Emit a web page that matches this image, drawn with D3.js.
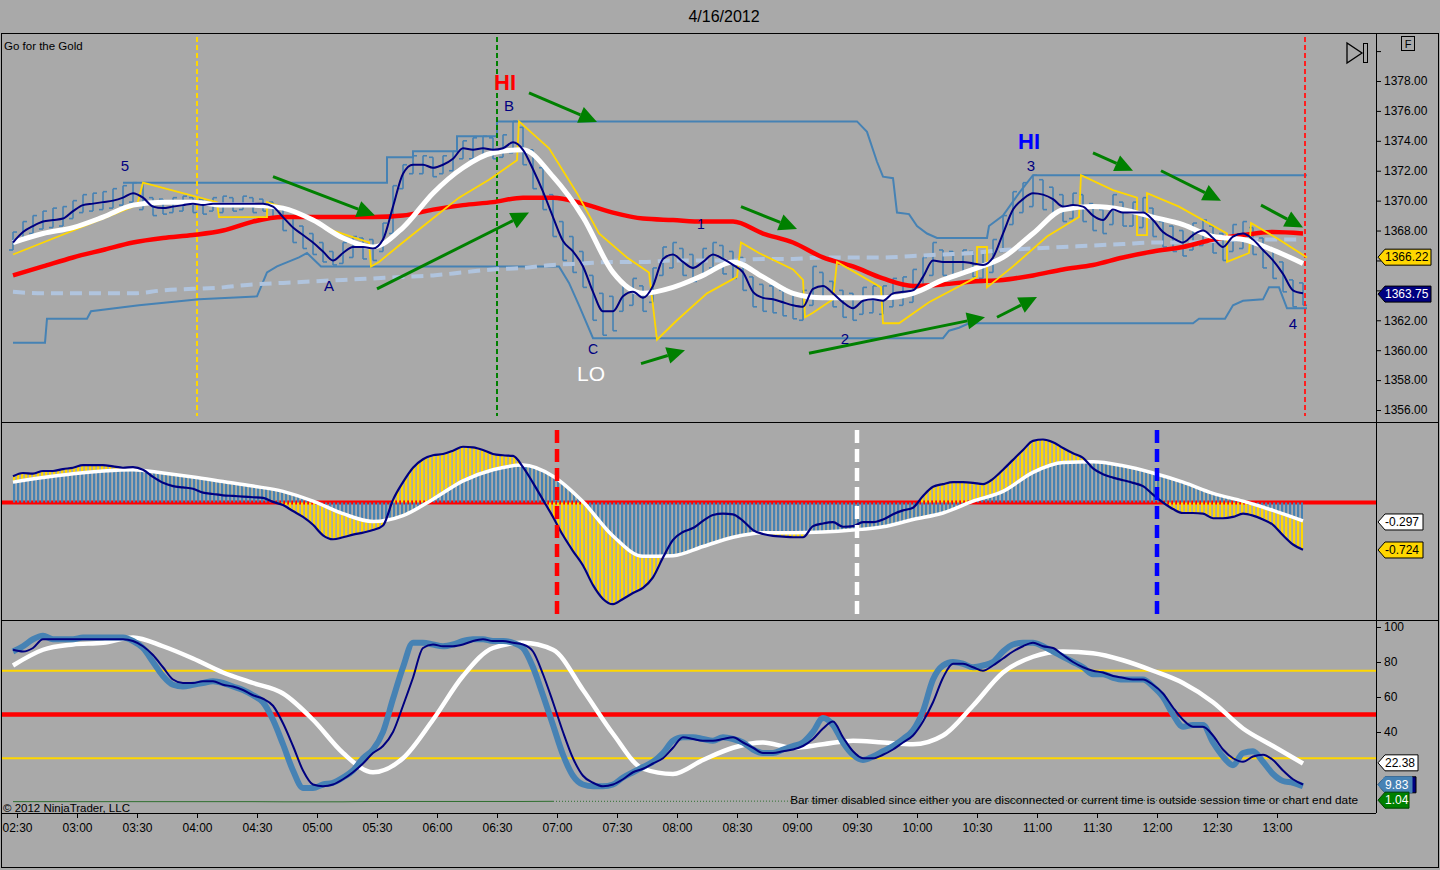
<!DOCTYPE html>
<html><head><meta charset="utf-8">
<script src="https://cdn.jsdelivr.net/npm/d3@7"></script>
<style>
html,body{margin:0;padding:0;background:#a9a9a9;overflow:hidden;}
svg{display:block;}
text{font-family:"Liberation Sans",Arial,sans-serif;}
</style></head><body>
<svg id="c" width="1440" height="870"></svg>
<script>
// ---------------- DATA ----------------
const chartDate = "2012-04-16";
const titleText = "4/16/2012";
const indicatorName = "Go for the Gold";
const firstBarTime = "02:28";
const barStepMin = 5;      // price bars / fast series
const smoothStepMin = 15;  // smooth series

const barHigh = [
1367.9,1368.6,1369.0,1369.3,1369.5,1369.6,1370.0,1370.4,1370.5,1370.6,
1370.8,1371.0,1371.2,1371.2,1370.2,1370.1,1370.2,1370.3,1370.2,1370.1,
1370.2,1370.3,1370.2,1370.3,1370.2,1370.1,1369.9,1369.5,1368.9,1368.3,
1367.8,1367.2,1366.6,1367.2,1367.6,1367.5,1367.4,1368.5,1371.0,1372.4,
1373.0,1373.0,1372.9,1373.0,1373.3,1374.0,1374.2,1374.3,1374.2,1374.4,
1375.3,1374.9,1373.4,1372.2,1370.4,1368.6,1367.6,1366.6,1365.0,1363.8,
1363.6,1364.4,1364.8,1364.3,1365.5,1366.9,1367.2,1366.8,1366.4,1366.8,
1367.2,1367.0,1366.6,1366.2,1364.9,1364.4,1364.3,1364.0,1363.9,1364.0,
1365.6,1365.2,1364.6,1364.0,1363.8,1364.2,1364.3,1364.3,1364.8,1364.9,
1365.4,1366.2,1367.2,1366.7,1366.6,1366.7,1366.6,1366.6,1367.4,1369.0,
1370.6,1371.2,1371.7,1371.4,1370.9,1370.4,1370.5,1370.4,1369.8,1369.4,
1370.4,1369.9,1369.9,1370.2,1369.5,1368.6,1368.3,1368.0,1368.5,1368.7,
1368.3,1367.8,1368.4,1368.6,1368.2,1367.5,1366.8,1365.9,1364.7,1364.5];
const barLow = [
1366.7,1367.4,1367.8,1368.1,1368.2,1368.3,1368.8,1369.2,1369.3,1369.4,
1369.5,1369.7,1369.9,1369.4,1369.0,1369.1,1369.2,1369.3,1369.2,1369.1,
1369.3,1369.2,1369.3,1369.4,1369.2,1369.3,1368.9,1368.0,1367.2,1366.8,
1366.4,1365.9,1365.7,1365.8,1366.2,1366.1,1366.0,1366.6,1367.8,1370.8,
1371.8,1371.8,1371.6,1371.8,1372.0,1372.8,1372.8,1372.9,1372.8,1372.9,
1373.2,1372.4,1370.8,1369.4,1367.6,1366.0,1365.2,1364.2,1362.0,1361.0,
1361.3,1362.6,1363.0,1362.6,1363.2,1365.0,1365.5,1365.0,1364.6,1364.9,
1365.5,1365.1,1364.8,1364.0,1362.9,1362.6,1362.5,1362.3,1362.1,1362.0,
1363.0,1363.4,1362.9,1362.2,1362.0,1362.4,1362.5,1362.4,1362.9,1363.0,
1363.2,1364.0,1365.0,1365.0,1365.0,1365.1,1364.9,1364.8,1365.2,1366.6,
1368.4,1369.2,1369.6,1369.4,1369.1,1368.6,1368.8,1368.6,1368.0,1367.8,
1368.4,1368.3,1368.3,1368.2,1367.6,1366.9,1366.6,1366.3,1366.7,1367.0,
1366.5,1366.0,1366.6,1366.8,1366.4,1365.5,1364.8,1363.9,1362.9,1363.0];
const fastMA = [
1367.2,1367.9,1368.3,1368.6,1368.7,1368.8,1369.3,1369.7,1369.8,1369.9,
1370.0,1370.2,1370.5,1370.2,1369.6,1369.5,1369.6,1369.7,1369.8,1369.7,
1369.8,1369.8,1369.8,1369.8,1369.8,1369.8,1369.6,1368.9,1368.2,1367.7,
1367.2,1366.6,1366.0,1366.5,1366.9,1366.9,1366.8,1367.4,1369.6,1371.8,
1372.4,1372.4,1372.2,1372.4,1372.8,1373.5,1373.4,1373.5,1373.4,1373.5,
1373.9,1373.4,1372.1,1370.6,1368.9,1367.3,1366.6,1365.6,1363.9,1362.6,
1362.6,1363.6,1363.9,1363.5,1364.3,1366.1,1366.4,1365.9,1365.5,1365.9,
1366.4,1366.1,1365.7,1365.2,1363.9,1363.5,1363.4,1363.2,1363.0,1362.9,
1364.1,1364.3,1363.8,1363.2,1362.8,1363.3,1363.4,1363.3,1363.8,1363.9,
1364.0,1364.9,1366.0,1365.9,1365.9,1365.9,1365.8,1365.7,1366.2,1367.8,
1369.4,1370.1,1370.5,1370.4,1370.1,1369.6,1369.7,1369.6,1369.0,1368.7,
1369.4,1369.2,1369.2,1369.2,1368.7,1367.9,1367.5,1367.2,1367.7,1368.0,
1367.5,1366.9,1367.6,1367.8,1367.4,1366.7,1366.0,1365.1,1364.0,1363.8];
const midMA = [
1367.2,1367.8,1368.2,1368.9,1369.7,1369.9,1369.9,1369.7,1369.7,1369.5,
1368.7,1367.5,1366.9,1368.2,1370.5,1372.2,1373.2,1373.4,1371.6,1368.9,
1365.2,1363.8,1364.2,1365.0,1365.9,1364.9,1363.8,1363.5,1363.5,1363.5,
1363.8,1364.7,1365.4,1366.2,1367.8,1369.4,1369.6,1369.4,1368.9,1368.4,
1367.6,1367.4,1366.7,1365.8];
const slowMA = [
1365.0,1365.6,1366.2,1366.7,1367.2,1367.5,1367.7,1368.0,1368.6,1368.9,
1368.9,1368.9,1368.9,1369.0,1369.4,1369.7,1369.9,1370.2,1370.2,1369.8,
1369.2,1368.8,1368.7,1368.6,1368.6,1367.8,1367.2,1366.2,1365.6,1364.8,
1364.3,1364.4,1364.6,1364.7,1365.0,1365.4,1365.7,1366.2,1366.6,1366.9,
1367.4,1367.7,1367.9,1367.8];
const longMA = [
1363.9,1363.8,1363.8,1363.8,1363.8,1364.0,1364.1,1364.2,1364.4,1364.5,
1364.6,1364.7,1364.8,1364.9,1365.0,1365.2,1365.4,1365.5,1365.7,1365.8,
1365.9,1365.9,1366.0,1366.0,1366.0,1366.1,1366.1,1366.2,1366.2,1366.2,
1366.3,1366.4,1366.5,1366.7,1366.8,1366.9,1367.0,1367.1,1367.2,1367.2,
1367.3,1367.4,1367.4,1367.4];
const stopTimes = ["02:28","03:30","03:33","04:10","04:11","04:35","04:35","04:51","05:08","05:26",
"05:27","05:31","05:41","05:56","06:11","06:26","06:40","06:41","06:56","07:10",
"07:21","07:35","07:46","07:50","08:00","08:15","08:30","08:32","08:41","08:58",
"09:03","09:04","09:08","09:18","09:20","09:42","09:43","09:51","10:06","10:30",
"10:30","10:35","10:35","10:48","11:05","11:21","11:22","11:38","11:50","11:50",
"11:55","11:55","12:11","12:35","12:35","12:46","12:47","13:01","13:15"];
const stopValues = [1366.4,1369.7,1371.2,1369.9,1368.9,1368.9,1369.9,1369.2,1368.0,1367.2,
1365.6,1365.9,1367.0,1368.6,1370.2,1371.4,1372.7,1375.3,1373.5,1370.5,
1367.8,1366.2,1365.2,1360.7,1362.0,1363.8,1364.9,1367.2,1366.5,1365.4,
1364.7,1362.2,1362.5,1363.4,1365.9,1364.2,1361.8,1361.8,1363.2,1364.9,
1366.9,1366.9,1364.2,1365.6,1367.6,1368.9,1371.7,1370.7,1370.2,1367.7,
1367.7,1370.5,1369.6,1367.8,1365.9,1366.5,1368.5,1367.4,1366.2];
const upperTimes = ["03:23","05:35","05:35","05:48","05:48","06:10","06:10","06:30","06:30","09:30",
"09:35","09:40","09:43","09:48","09:50","09:56","10:00","10:05","10:10","10:35",
"10:36","10:43","10:51","10:58","13:15"];
const upperValues = [1371.2,1371.2,1372.9,1372.9,1373.3,1373.3,1374.3,1374.3,1375.3,1375.3,
1374.6,1372.6,1371.6,1371.5,1369.2,1369.1,1368.3,1367.8,1367.5,1367.5,
1368.3,1369.0,1370.5,1371.7,1371.7];
const lowerTimes = ["02:28","02:44","02:45","03:05","03:07","03:31","04:01","04:30","04:35","04:40",
"04:51","04:55","05:02","07:01","07:06","07:11","07:18","10:13","10:16","10:21",
"10:26","12:18","12:21","12:34","12:38","12:43","12:53","12:56","13:01","13:05","13:15"];
const lowerValues = [1360.5,1360.5,1362.1,1362.1,1362.6,1363.0,1363.4,1363.6,1365.2,1365.6,
1366.2,1366.5,1365.6,1365.6,1364.5,1363.0,1360.8,1360.8,1361.3,1361.5,
1361.8,1361.8,1362.1,1362.1,1363.0,1363.3,1363.4,1364.2,1364.2,1362.8,1362.8];

const macdLine = [
0.40,0.45,0.44,0.48,0.48,0.51,0.53,0.57,0.57,0.57,
0.55,0.53,0.54,0.50,0.39,0.30,0.25,0.23,0.21,0.15,
0.13,0.11,0.10,0.09,0.08,0.07,0.01,-0.04,-0.13,-0.22,
-0.34,-0.50,-0.56,-0.53,-0.49,-0.46,-0.42,-0.35,0.04,0.31,
0.53,0.66,0.72,0.74,0.79,0.85,0.84,0.80,0.74,0.72,
0.71,0.54,0.30,0.04,-0.22,-0.50,-0.74,-0.96,-1.26,-1.47,
-1.55,-1.47,-1.38,-1.30,-1.14,-0.84,-0.57,-0.45,-0.39,-0.28,
-0.19,-0.17,-0.18,-0.28,-0.42,-0.48,-0.51,-0.52,-0.53,-0.53,
-0.36,-0.32,-0.30,-0.37,-0.36,-0.30,-0.30,-0.26,-0.18,-0.12,
-0.08,0.10,0.24,0.28,0.31,0.31,0.30,0.28,0.36,0.50,
0.65,0.80,0.94,0.96,0.92,0.83,0.75,0.68,0.52,0.43,
0.38,0.34,0.30,0.25,0.12,0.00,-0.10,-0.16,-0.16,-0.17,
-0.24,-0.24,-0.22,-0.17,-0.20,-0.26,-0.34,-0.50,-0.64,-0.72];
const macdAvg = [
0.31,0.38,0.44,0.48,0.50,0.45,0.39,0.32,0.25,0.17,
0.02,-0.17,-0.29,-0.20,0.05,0.33,0.50,0.57,0.40,0.01,
-0.51,-0.82,-0.81,-0.67,-0.53,-0.46,-0.46,-0.45,-0.42,-0.37,
-0.26,-0.16,0.02,0.17,0.46,0.61,0.62,0.56,0.45,0.31,
0.14,0.02,-0.12,-0.28];

const stochK = [
86,89,93,95,93,93,93,94,94,94,
94,94,92,88,80,72,67,66,67,68,
69,68,66,64,61,57,47,33,18,8,
8,10,11,14,18,25,30,40,59,77,
91,91,90,89,90,92,93,93,92,92,
91,88,77,61,44,27,15,10,9,9,
10,14,17,20,23,28,35,37,37,36,
35,37,36,34,30,28,28,30,32,34,
40,48,44,34,27,24,26,29,32,36,
41,52,70,78,80,79,77,78,80,86,
90,91,91,89,86,83,80,77,73,73,
71,70,70,70,66,60,50,43,44,44,
34,26,21,28,29,23,16,12,11,9];
const stochD = [
87,86,88,93,93,93,93,93,93,93,
93,93,92,89,84,77,70,68,68,69,
69,67,66,64,61,59,55,45,32,18,
10,9,10,13,17,22,28,32,40,55,
71,88,90,89,89,90,92,93,92,92,
91,90,86,73,57,40,25,15,11,9,
10,13,17,19,22,25,31,37,36,35,
35,36,37,34,31,28,28,29,30,32,
36,42,46,37,29,25,25,27,30,34,
38,46,57,71,79,79,77,75,78,82,
86,89,91,89,88,84,80,77,75,74,
72,71,70,70,67,62,54,47,43,43,
38,30,25,23,26,27,24,18,13,10];
const stochSlow = [
78,87,90,91,94,89,82,74,68,62,
47,28,17,25,47,72,88,91,87,64,
39,19,16,24,31,34,31,33,35,34,
33,38,55,74,83,86,85,81,75,68,
57,42,32,22];
const greenLine = [
0.2,0.2,0.2,0.2,0.2,0.2,0.2,0.2,0.2,0.1,
0.1,0.1,0.3,0.3,0.3,0.3,0.3,0.3,0.4,0.4,
0.4,0.4,0.4,0.4,0.5,0.5,0.5,0.5,0.6,0.6,
0.6,0.6,0.7,0.7,0.7,0.8,0.8,0.8,0.9,0.9,
0.9,1.0,1.0,1.04];

const priceTicks = [1356,1358,1360,1362,1364,1366,1368,1370,1372,1374,1376,1378,1380];
const stochTicks = [40,60,80,100];
const timeTicks = ["02:30","03:00","03:30","04:00","04:30","05:00","05:30","06:00","06:30","07:00","07:30",
"08:00","08:30","09:00","09:30","10:00","10:30","11:00","11:30","12:00","12:30","13:00"];
const stochLevels = [75, 50, 25];
const pricePanelMarkers = [1366.22, 1363.75];
const macdPanelMarkers = [-0.297, -0.724];
const stochPanelMarkers = [22.38, 9.83, 1.04];
const pricePanelVLines = ["04:00","06:30","13:14"];
const macdPanelVLines = ["07:00","09:30","12:00"];
const greenDottedFrom = "07:00";
// annotations: [text, time, price]
const annoTexts = ["5","HI","B","A","C","LO","1","2","HI","3","4"];
const annoTimes = ["03:24","06:34","06:36","05:06","07:18","07:17","08:12","09:24","10:56","10:57","13:08"];
const annoPrices = [1372.0,1377.4,1376.0,1363.95,1359.75,1357.95,1368.1,1360.4,1373.45,1372.0,1361.4];
// trend arrows: start time/price -> end time/price
const arrowFromT = ["04:38","05:30","06:46","07:42","08:32","09:06","10:40","11:28","12:02","12:52"];
const arrowFromP = [1371.6,1364.1,1377.2,1359.1,1369.6,1359.8,1362.2,1373.2,1372.0,1369.7];
const arrowToT   = ["05:29","06:46","07:20","08:04","09:00","10:34","11:00","11:48","12:32","13:13"];
const arrowToP   = [1369.0,1369.2,1375.26,1360.0,1368.1,1362.2,1363.55,1372.0,1370.0,1368.2];
const copyrightText = "\u00a9 2012 NinjaTrader, LLC";
const timerText = "Bar timer disabled since either you are disconnected or current time is outside session time or chart end date";

// ---------------- DRAW ----------------
const svg = d3.select("#c");
const parseT = d3.timeParse("%Y-%m-%d %H:%M");
const T = s => parseT(chartDate + " " + s);
const x = d3.scaleTime().domain([T("02:30"), T("13:00")]).range([17, 1277]);
const t5 = barHigh.map((_, i) => d3.timeMinute.offset(T(firstBarTime), i * barStepMin));
const t15 = midMA.map((_, i) => d3.timeMinute.offset(T(firstBarTime), i * smoothStepMin));
const yP = d3.scaleLinear().domain([1356, 1378]).range([410, 81]);
const yM = d3.scaleLinear().domain([-1, 1]).range([568.1, 436.9]);
const yS = d3.scaleLinear().domain([0, 100]).range([802, 627]);

const C = {bg:"#a9a9a9", steel:"#4682b4", navy:"#000080", red:"#ff0000", gold:"#ffd700",
           light:"#b0c4de", green:"#008000"};

const defs = svg.append("defs");
[["p1",2,34,1374,388],["p2",2,423,1374,197],["p3",2,621,1374,192]].forEach(([id,a,b,w,h]) =>
  defs.append("clipPath").attr("id", id).append("rect").attr("x",a).attr("y",b).attr("width",w).attr("height",h));
function stripe(id, color){
  const p = defs.append("pattern").attr("id", id).attr("patternUnits","userSpaceOnUse")
    .attr("x",1).attr("y",0).attr("width",4).attr("height",8);
  p.append("rect").attr("x",0).attr("y",0).attr("width",2.2).attr("height",8).attr("fill",color);
}
stripe("stBlue", C.steel); stripe("stGold", C.gold);

svg.append("rect").attr("width",1440).attr("height",870).attr("fill",C.bg);

// title
svg.append("text").attr("x",724).attr("y",22).attr("text-anchor","middle")
  .attr("font-size",16).attr("fill","#000").text(titleText);

const zip = (ts, vs) => vs.map((v, i) => [ts[i], v]);
const mkLine = (ys, curve) => d3.line().x(d => x(d[0])).y(d => ys(d[1])).curve(curve || d3.curveLinear);

// ---------- Panel 1 ----------
const g1 = svg.append("g").attr("clip-path","url(#p1)");
// bars
const bars = g1.append("g").attr("stroke", C.steel).attr("stroke-width",1.6);
barHigh.forEach((h, i) => {
  const xx = x(t5[i]), yh = yP(h), yl = yP(barLow[i]);
  const rising = i === 0 || h >= barHigh[i-1];
  bars.append("line").attr("x1",xx).attr("x2",xx).attr("y1",yh).attr("y2",yl);
  bars.append("line").attr("x1",xx-4).attr("x2",xx).attr("y1",rising?yl:yh).attr("y2",rising?yl:yh);
  bars.append("line").attr("x1",xx).attr("x2",xx+4).attr("y1",rising?yh:yl).attr("y2",rising?yh:yl);
});
// channels
g1.append("path").attr("d", mkLine(yP)(zip(upperTimes.map(T), upperValues)))
  .attr("fill","none").attr("stroke",C.steel).attr("stroke-width",2);
g1.append("path").attr("d", mkLine(yP)(zip(lowerTimes.map(T), lowerValues)))
  .attr("fill","none").attr("stroke",C.steel).attr("stroke-width",2);
// vertical lines
const p1VColors = [C.gold, C.green, "#ff2020"];
pricePanelVLines.forEach((s, i) => g1.append("line").attr("x1",x(T(s))).attr("x2",x(T(s)))
  .attr("y1",37).attr("y2",416).attr("stroke",p1VColors[i]).attr("stroke-width",2).attr("stroke-dasharray","5,3"));
// long MA dashed
g1.append("path").attr("d", mkLine(yP, d3.curveMonotoneX)(zip(t15, longMA)))
  .attr("fill","none").attr("stroke",C.light).attr("stroke-width",4).attr("stroke-dasharray","12,7");
// slow red
g1.append("path").attr("d", mkLine(yP, d3.curveMonotoneX)(zip(t15, slowMA)))
  .attr("fill","none").attr("stroke",C.red).attr("stroke-width",4.5);
// yellow stop
g1.append("path").attr("d", mkLine(yP)(zip(stopTimes.map(T), stopValues)))
  .attr("fill","none").attr("stroke",C.gold).attr("stroke-width",1.8);
// white mid MA
g1.append("path").attr("d", mkLine(yP, d3.curveMonotoneX)(zip(t15, midMA)))
  .attr("fill","none").attr("stroke","#fff").attr("stroke-width",5);
// navy fast MA
g1.append("path").attr("d", mkLine(yP, d3.curveMonotoneX)(zip(t5, fastMA)))
  .attr("fill","none").attr("stroke",C.navy).attr("stroke-width",2);
// arrows
const ag = g1.append("g");
arrowFromT.forEach((s, i) => {
  const x1 = x(T(s)), y1 = yP(arrowFromP[i]), x2 = x(T(arrowToT[i])), y2 = yP(arrowToP[i]);
  const a = Math.atan2(y2-y1, x2-x1), L = 18, W = 8.5;
  const bx = x2 - L*Math.cos(a), by = y2 - L*Math.sin(a);
  ag.append("line").attr("x1",x1).attr("y1",y1).attr("x2",bx).attr("y2",by)
    .attr("stroke",C.green).attr("stroke-width",3);
  ag.append("path").attr("d", `M${x2},${y2}L${bx - W*Math.sin(a)},${by + W*Math.cos(a)}L${bx + W*Math.sin(a)},${by - W*Math.cos(a)}Z`)
    .attr("fill",C.green);
});
// annotations
const annoStyle = {"5":[C.navy,15],"B":[C.navy,15],"A":[C.navy,15],"C":[C.navy,14],
  "1":[C.navy,14],"2":[C.navy,15],"3":[C.navy,15],"4":[C.navy,15],"LO":["#fff",21]};
annoTexts.forEach((s, i) => {
  let st = annoStyle[s] || [C.navy,14];
  if (s === "HI") st = [i === 1 ? C.red : "#0000ff", 22];
  g1.append("text").attr("x", x(T(annoTimes[i]))).attr("y", yP(annoPrices[i])).attr("text-anchor","middle")
    .attr("font-family","DejaVu Sans, sans-serif").attr("font-size",st[1]).attr("fill",st[0])
    .attr("font-weight", s === "HI" ? "bold" : "normal").text(s);
});
svg.append("text").attr("x",4).attr("y",50).attr("font-size",11.5).attr("fill","#000").text(indicatorName);

// ---------- Panel 2 ----------
const g2 = svg.append("g").attr("clip-path","url(#p2)");
g2.append("line").attr("x1",2).attr("x2",1376).attr("y1",yM(0)).attr("y2",yM(0))
  .attr("stroke",C.red).attr("stroke-width",4);
const macdPts = zip(t5, macdLine), avgPts = zip(t15, macdAvg);
const lM = mkLine(yM, d3.curveMonotoneX);
const fwd = lM(macdPts), back = lM(avgPts.slice().reverse());
g2.append("path").attr("d", fwd + "L" + back.slice(1) + "Z").attr("fill","url(#stGold)");
g2.append("path").attr("d", d3.area().x(d => x(d[0])).y0(yM(0)).y1(d => yM(d[1])).curve(d3.curveMonotoneX)(avgPts))
  .attr("fill","url(#stBlue)");
g2.append("path").attr("d", lM(avgPts)).attr("fill","none").attr("stroke","#fff").attr("stroke-width",3.5);
g2.append("path").attr("d", fwd).attr("fill","none").attr("stroke",C.navy).attr("stroke-width",2.2);
const p2VColors = [C.red, "#fff", "#0000ff"];
macdPanelVLines.forEach((s, i) => g2.append("line").attr("x1",x(T(s))).attr("x2",x(T(s)))
  .attr("y1",430).attr("y2",616).attr("stroke",p2VColors[i]).attr("stroke-width",4.5).attr("stroke-dasharray","13,6"));

// ---------- Panel 3 ----------
const g3 = svg.append("g").attr("clip-path","url(#p3)");
const lvlColors = [C.gold, C.red, C.gold], lvlW = [2, 4.5, 2];
stochLevels.forEach((v, i) => g3.append("line").attr("x1",2).attr("x2",1376).attr("y1",yS(v)).attr("y2",yS(v))
  .attr("stroke",lvlColors[i]).attr("stroke-width",lvlW[i]));
const gPts = zip(t15, greenLine);
const cut = T(greenDottedFrom);
const lS = mkLine(yS, d3.curveMonotoneX);
g3.append("path").attr("d", mkLine(yS)(gPts.filter(d => d[0] <= cut))).attr("fill","none")
  .attr("stroke","#2f6f2f").attr("stroke-width",1);
g3.append("path").attr("d", mkLine(yS)(gPts.filter(d => d[0] >= d3.timeMinute.offset(cut,-15)))).attr("fill","none")
  .attr("stroke","#2f6f2f").attr("stroke-width",1).attr("stroke-dasharray","1,2");
g3.append("path").attr("d", lS(zip(t15, stochSlow))).attr("fill","none").attr("stroke","#fff").attr("stroke-width",4.5);
g3.append("path").attr("d", lS(zip(t5, stochK))).attr("fill","none").attr("stroke",C.steel).attr("stroke-width",6)
  .attr("stroke-linejoin","round");
g3.append("path").attr("d", lS(zip(t5, stochD))).attr("fill","none").attr("stroke",C.navy).attr("stroke-width",2);
svg.append("text").attr("x",3).attr("y",812).attr("font-size",11.5).attr("fill","#000").text(copyrightText);
svg.append("text").attr("x",1358).attr("y",804).attr("text-anchor","end").attr("font-size",11.8).attr("fill","#000").text(timerText);

// ---------- Axes & frame ----------
const fmt2 = d3.format(".2f");
const hidden = d => pricePanelMarkers.some(m => Math.abs(yP(m) - yP(d)) < 12);
const axP = svg.append("g").attr("transform","translate(1376,0)")
  .call(d3.axisRight(yP).tickValues(priceTicks).tickSize(5).tickSizeOuter(0)
    .tickFormat(d => (d === 1380 || hidden(d)) ? "" : fmt2(d)));
const axS = svg.append("g").attr("transform","translate(1376,0)")
  .call(d3.axisRight(yS).tickValues(stochTicks).tickSize(5).tickSizeOuter(0));
const axX = svg.append("g").attr("transform","translate(0,813)")
  .call(d3.axisBottom(x).tickValues(timeTicks.map(T)).tickFormat(d3.timeFormat("%H:%M")).tickSize(5).tickSizeOuter(0));
[axP, axS, axX].forEach(a => {
  a.select(".domain").remove();
  a.selectAll("text").attr("font-family","Liberation Sans, Arial, sans-serif").attr("font-size",12).attr("fill","#000");
  a.selectAll("line").attr("stroke","#000");
});
axX.selectAll("text").attr("dy","0.9em");

const fr = svg.append("g").attr("stroke","#000").attr("stroke-width",1).attr("fill","none");
fr.append("rect").attr("x",1.5).attr("y",33.5).attr("width",1437).attr("height",834);
fr.append("line").attr("x1",1).attr("x2",1439).attr("y1",422.5).attr("y2",422.5);
fr.append("line").attr("x1",1).attr("x2",1439).attr("y1",620.5).attr("y2",620.5);
fr.append("line").attr("x1",1).attr("x2",1376).attr("y1",813.5).attr("y2",813.5);
fr.append("line").attr("x1",1376.5).attr("x2",1376.5).attr("y1",33).attr("y2",813);
// play icon and F box
fr.append("path").attr("d","M1347,43L1347,63L1362,53Z").attr("stroke-width",1.3);
fr.append("rect").attr("x",1363.5).attr("y",43.5).attr("width",4).attr("height",19);
fr.append("rect").attr("x",1401.5).attr("y",36.5).attr("width",13).attr("height",14);
svg.append("text").attr("x",1408).attr("y",47.5).attr("text-anchor","middle").attr("font-size",11).text("F");

// value markers
function marker(yc, w, txt, fill, tcol, stroke, fs){
  const g = svg.append("g");
  g.append("path").attr("d",`M1378,${yc}L1385,${yc-8}L${1378+w},${yc-8}L${1378+w},${yc+8}L1385,${yc+8}Z`)
    .attr("fill",fill).attr("stroke",stroke || "#000").attr("stroke-width",1);
  g.append("text").attr("x",1385).attr("y",yc+4.3).attr("font-size",fs || 12).attr("fill",tcol).text(txt);
}
const hyph = s => s.replace("\u2212", "-");
const pmFill = [C.gold, C.navy], pmText = ["#000", "#fff"];
pricePanelMarkers.forEach((v, i) => marker(yP(v), 53, fmt2(v), pmFill[i], pmText[i]));
const mmFill = ["#fff", C.gold];
macdPanelMarkers.forEach((v, i) => marker(yM(v), 45, hyph(d3.format(".3f")(v)), mmFill[i], "#000"));
marker(yS(stochPanelMarkers[0]), 40, fmt2(stochPanelMarkers[0]), "#fff", "#000");
marker(yS(stochPanelMarkers[1]), 38, fmt2(stochPanelMarkers[1]), C.navy, "#fff");
marker(yS(stochPanelMarkers[1]), 34, fmt2(stochPanelMarkers[1]), C.steel, "#fff", C.steel);
marker(yS(stochPanelMarkers[2]), 31, fmt2(stochPanelMarkers[2]), C.green, "#fff", "#004000");
</script>
</body></html>
